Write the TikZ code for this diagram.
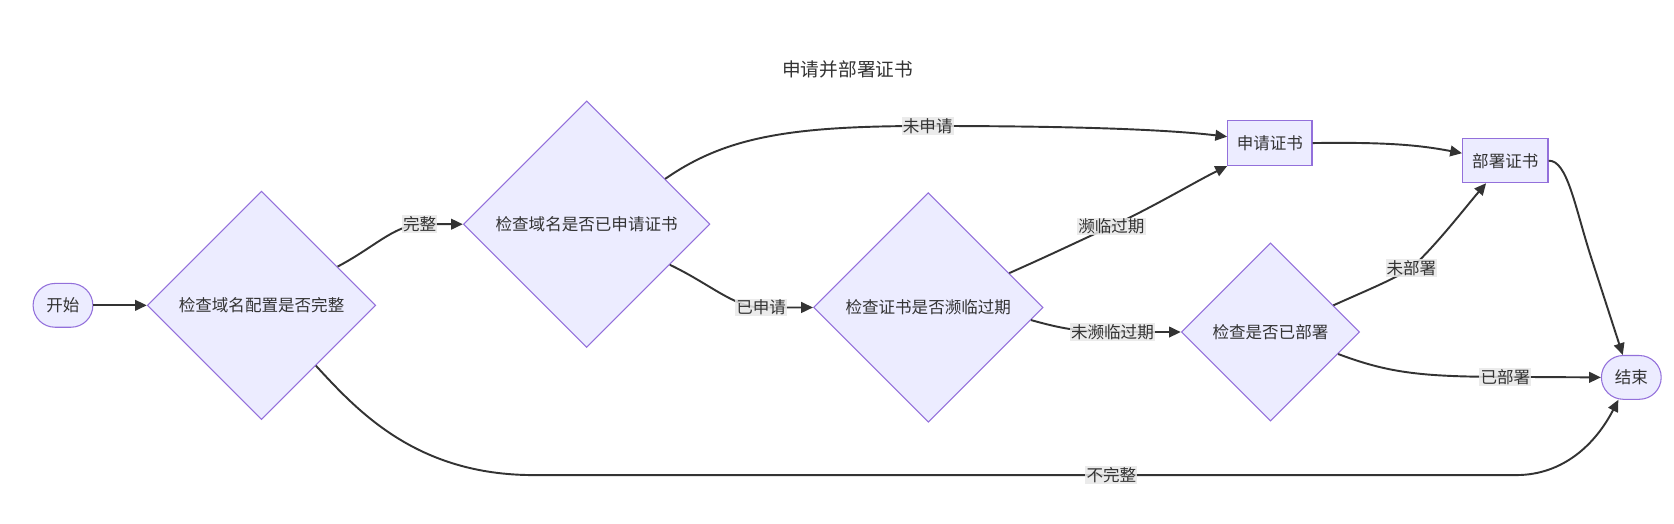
\documentclass[tikz,border=0pt]{standalone}
\usepackage{fontspec}
\setmainfont{Noto Sans CJK SC}
\usetikzlibrary{shapes.geometric,arrows.meta}
\definecolor{nodefill}{HTML}{ECECFF}
\definecolor{nodedraw}{HTML}{9370DB}
\definecolor{edgecol}{HTML}{333333}
\definecolor{labfill}{HTML}{E8E8E8}
\begin{document}
\begin{tikzpicture}[x=1pt,y=-1pt,
  every node/.style={text=edgecol, font=\fontsize{15.5}{18}\selectfont},
  dia/.style={diamond, draw=nodedraw, fill=nodefill, line width=1pt, inner sep=0pt},
  box/.style={rectangle, draw=nodedraw, fill=nodefill, line width=1.2pt, minimum width=79pt, minimum height=42pt, inner sep=0pt},
  term/.style={rectangle, rounded corners=20.5pt, draw=nodedraw, fill=nodefill, line width=1pt, minimum width=56pt, minimum height=41pt, inner sep=0pt},
  flow/.style={draw=edgecol, line width=1.8pt, -{Triangle[length=11pt,width=10pt]}},
  elab/.style={fill=labfill, fill opacity=0.85, text opacity=1, inner sep=1pt},
]
\useasboundingbox[fill=white] (0,0) rectangle (1568,490.8);

\node[font=\fontsize{17.5}{20}\selectfont] (title) at (794,65) {申请并部署证书};

\node[term] (start) at (59,286) {开始};
\node[dia, minimum width=214pt, minimum height=214pt] (d1) at (245,286) {};
\node (d1t) at (d1.center) {检查域名配置是否完整};
\node[dia, minimum width=231pt, minimum height=231pt] (d2) at (549.5,210) {};
\node (d2t) at (d2.center) {检查域名是否已申请证书};
\node[dia, minimum width=215pt, minimum height=215pt] (d3) at (869.5,288) {};
\node (d3t) at (d3.center) {检查证书是否濒临过期};
\node[dia, minimum width=167pt, minimum height=167pt] (d4) at (1190,311) {};
\node (d4t) at (d4.center) {检查是否已部署};
\node[box] (sq) at (1189.5,134) {申请证书};
\node[box, minimum width=80pt, minimum height=41pt] (bs) at (1410,150.5) {部署证书};
\node[term] (en) at (1528,353.5) {结束};

\draw[flow] (start) -- (d1);
\draw[flow] (d1.27) .. controls (350,232) and (368,212) .. (393,210) node[elab] (l1) {完整} -- (d2.west);
\draw[flow] (d2.30) .. controls (680,128) and (740,118) .. (869,118) node[elab] (l2) {未申请} .. controls (1000,118) and (1090,121) .. ([yshift=6pt]sq.west);
\draw[flow] (d2.-26) .. controls (665,266) and (688,288) .. (713,288) node[elab] (l3) {已申请} -- (d3.west);
\draw[flow] (d3.23) .. controls (990,236) and (1010,226) .. (1041,212) node[elab] (l4) {濒临过期} .. controls (1080,194) and (1120,170) .. (sq.south west);
\draw[flow] (d3.-7) .. controls (985,305) and (1005,311) .. (1042,311) node[elab] (l5) {未濒临过期} -- (d4.west);
\draw[flow] (sq.east) .. controls (1300,133) and (1330,136) .. ([yshift=7pt]bs.west);
\draw[flow] (d4.23) .. controls (1280,272) and (1305,262) .. (1322,251) node[elab] (l6) {未部署} .. controls (1345,230) and (1372,195) .. ([xshift=-18pt]bs.south);
\draw[flow] (d4.-18) .. controls (1300,349) and (1330,353) .. (1410,353) node[elab] (l7) {已部署} -- (en.west);
\draw[flow] (bs.east) .. controls (1468,150) and (1475,193) .. (1490,240) -- ([xshift=-8pt]en.north);
\draw[flow] (d1.-48) .. controls (335,385) and (390,445) .. (500,445) -- (1041,445) node[elab] (l8) {不完整} -- (1420,445) .. controls (1465,445) and (1495,415) .. (en.-120);
\end{tikzpicture}
\end{document}
